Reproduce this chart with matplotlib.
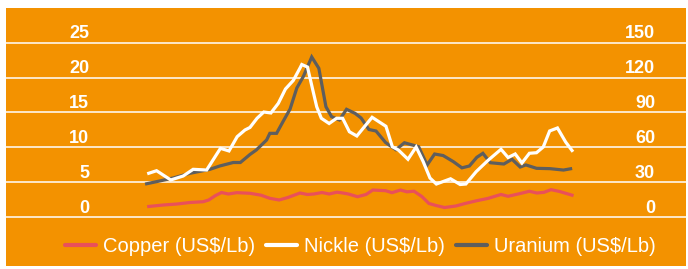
import matplotlib
matplotlib.use('Agg')
import matplotlib.pyplot as plt
import matplotlib.transforms as mtransforms
from matplotlib.patches import Rectangle

# months since Jan 2003 and prices
nickel_t = [0.6, 2.8, 6.8, 10.3, 13.1, 16.9, 20.8, 23.2, 25.5, 27.7, 29.1, 31.1, 33.0, 35.0,
            37.1, 39.1, 41.3, 43.2, 43.7, 45.3, 46.6, 47.9, 49.2, 51.4, 53.5, 55.2, 57.1, 59.2,
            63.5, 67.4, 69.2, 70.9, 73.6, 75.9, 77.9, 79.8, 81.6, 85.6, 88.3, 89.9, 92.8, 96.1,
            99.8, 101.8, 103.8, 105.7, 107.8, 109.8, 111.7, 113.5, 115.7, 118.0, 119.8]
nickel = [6.27, 6.64, 5.31, 5.88, 6.84, 6.74, 9.85, 9.47, 11.52, 12.48, 12.84, 14.16, 15.06, 14.92,
          16.31, 18.36, 19.58, 21.37, 21.87, 21.51, 18.65, 15.82, 14.16, 13.41, 14.16, 14.16, 12.23, 11.62,
          14.30, 13.01, 10.08, 9.61, 8.28, 10.04, 7.93, 5.59, 4.73, 5.48, 4.66, 4.73, 6.50, 8.10,
          9.71, 8.53, 9.04, 7.75, 9.14, 9.22, 10.04, 12.34, 12.77, 10.76, 9.54]

uranium_t = [0.0, 3.7, 7.5, 12.2, 17.8, 20.6, 24.4, 26.4, 29.1, 30.9, 33.8, 34.7, 36.6, 38.5,
             40.4, 42.3, 44.1, 46.5, 48.5, 50.5, 52.1, 54.3, 56.3, 58.7, 60.4, 62.6, 64.6, 67.3,
             70.2, 72.6, 76.6, 79.0, 81.1, 83.5, 86.4, 88.8, 90.9, 93.0, 94.7, 96.8, 100.6, 102.9,
             105.2, 106.8, 109.8, 113.6, 117.4, 119.4]
uranium = [28.6, 31.0, 33.6, 37.6, 41.0, 43.9, 46.9, 46.9, 53.8, 57.7, 66.3, 72.0, 72.0, 82.6,
           92.9, 111.0, 120.7, 137.7, 128.0, 94.9, 86.3, 83.5, 92.7, 89.2, 85.2, 75.3, 74.0, 64.1,
           57.9, 63.9, 60.5, 44.8, 54.2, 52.9, 47.6, 42.3, 43.9, 51.4, 54.8, 46.7, 45.6, 49.7,
           43.0, 44.8, 41.9, 41.6, 40.4, 41.5]

copper_t = [0.6, 4.7, 8.5, 12.2, 15.9, 17.5, 19.4, 21.1, 23.0, 25.4, 29.1, 32.2, 34.7, 37.3,
            39.8, 43.2, 45.3, 47.1, 49.4, 51.4, 53.6, 55.3, 56.8, 59.4, 61.8, 63.7, 67.3, 69.1,
            71.5, 73.3, 75.3, 77.5, 79.5, 81.5, 83.9, 87.1, 89.7, 93.0, 96.0, 99.8, 101.8, 104.9,
            107.8, 109.9, 111.9, 113.9, 116.3, 119.8]
copper = [1.51, 1.72, 1.86, 2.08, 2.19, 2.44, 3.08, 3.51, 3.30, 3.49, 3.40, 3.13, 2.68, 2.44,
          2.80, 3.44, 3.23, 3.30, 3.51, 3.30, 3.56, 3.44, 3.30, 2.91, 3.23, 3.87, 3.77, 3.49,
          3.87, 3.61, 3.70, 2.94, 1.94, 1.65, 1.36, 1.58, 1.94, 2.34, 2.65, 3.23, 2.97, 3.33,
          3.69, 3.44, 3.54, 3.92, 3.66, 3.13]

left_ticks = [0, 5, 10, 15, 20, 25]
right_ticks = [0, 30, 60, 90, 120, 150]

orange = '#F39200'
red = '#E9505A'
grey = '#5E5E5E'
font = 'Liberation Sans'

fig = plt.figure(figsize=(6.88, 2.69), dpi=100)
fig.patch.set_facecolor('white')
fig.add_artist(Rectangle((6 / 688, 3 / 269), 680 / 688, 258 / 269,
                         transform=fig.transFigure, facecolor=orange, edgecolor='none', zorder=0))

ax = fig.add_axes([6 / 688, 39 / 269, 680 / 688, 210 / 269])
ax2 = ax.twinx()
ax.set_zorder(2)
ax2.set_zorder(1)
ax.patch.set_visible(False)
ax2.patch.set_visible(False)

l1, = ax.plot(copper_t, copper, color=red, lw=2.3, solid_joinstyle='miter', label='Copper (US$/Lb)')
l2, = ax.plot(nickel_t, nickel, color='white', lw=2.3, solid_joinstyle='miter', label='Nickle (US$/Lb)')
l3, = ax2.plot(uranium_t, uranium, color=grey, lw=2.3, solid_joinstyle='miter', label='Uranium (US$/Lb)')

ax.set_xlim(-39.6, 151.9)
ax.set_ylim(-1.865, 28.256)
ax2.set_ylim(-1.865 * 6, 28.256 * 6)

ax.set_yticks(left_ticks)
ax2.set_yticks(right_ticks)
ax.set_xticks([])
ax2.yaxis.grid(True, color='white', lw=1.1)
ax2.set_axisbelow(True)

for a in (ax, ax2):
    for s in a.spines.values():
        s.set_visible(False)

ax.tick_params(axis='y', length=0, pad=-59.8, labelcolor='white')
ax2.tick_params(axis='y', length=0, pad=-22.3, labelcolor='white')

up = mtransforms.ScaledTranslation(0, 0.044, fig.dpi_scale_trans)
for lab in ax.get_yticklabels():
    lab.set_fontfamily(font)
    lab.set_fontsize(13)
    lab.set_fontweight('bold')
    lab.set_va('baseline')
    lab.set_transform(lab.get_transform() + up)
for lab in ax2.get_yticklabels():
    lab.set_fontfamily(font)
    lab.set_fontsize(13)
    lab.set_fontweight('bold')
    lab.set_va('baseline')
    lab.set_ha('right')
    lab.set_transform(lab.get_transform() + up)

leg = fig.legend(handles=[l1, l2, l3], loc='center', bbox_to_anchor=(0.524, 0.082), ncol=3,
                 frameon=False, prop={'family': font, 'size': 14.5}, labelcolor='white',
                 handlelength=1.54, handletextpad=0.35, columnspacing=0.55)
for h in leg.legend_handles:
    h.set_linewidth(3)
    h.set_solid_capstyle('round')

fig.savefig('out.png', dpi=100)
